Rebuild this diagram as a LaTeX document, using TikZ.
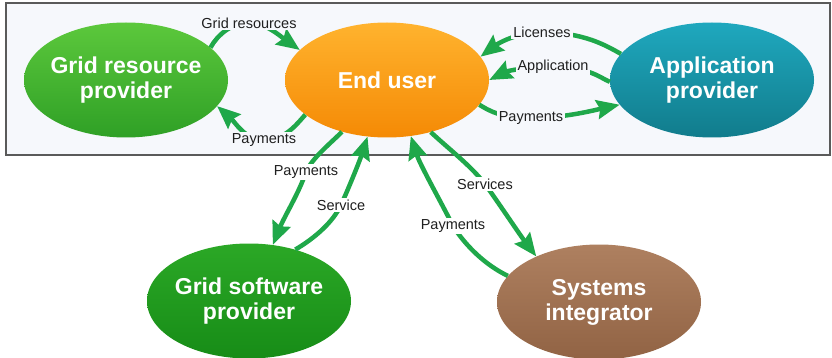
\documentclass[tikz,border=0pt]{standalone}
\usepackage{fontspec}
\setmainfont{Liberation Sans}
\usetikzlibrary{shapes.geometric,arrows.meta}
\definecolor{flowc}{HTML}{1FA84A}
\definecolor{boxbg}{HTML}{F6F8FC}
\definecolor{framec}{HTML}{5A5A5A}
\definecolor{grpT}{HTML}{5CC83C}\definecolor{grpM}{HTML}{3BB22E}\definecolor{grpB}{HTML}{2FA026}
\definecolor{euT}{HTML}{FFB32E}\definecolor{euM}{HTML}{FF9A12}\definecolor{euB}{HTML}{F58A05}
\definecolor{apT}{HTML}{1FA8BE}\definecolor{apM}{HTML}{178E9F}\definecolor{apB}{HTML}{117C8C}
\definecolor{gspT}{HTML}{2BA826}\definecolor{gspM}{HTML}{1E9A1E}\definecolor{gspB}{HTML}{178C17}
\definecolor{siT}{HTML}{AE8060}\definecolor{siM}{HTML}{A0714F}\definecolor{siB}{HTML}{916344}
\begin{document}
\begin{tikzpicture}[x=1pt,y=-1pt,
  party/.style={ellipse, inner sep=0pt, minimum width=204pt, minimum height=115pt},
  ptext/.style={text=white, font=\fontsize{23}{25}\selectfont\bfseries, align=center},
  flow/.style={draw=flowc, line width=4.5pt, -{Stealth[length=23pt,width=19pt,inset=3pt]}},
  lbl/.style={font=\fontsize{14.5}{16}\selectfont, text=black!88, inner sep=2pt, fill=boxbg},
  lblw/.style={lbl, fill=white}]
\useasboundingbox (0,0) rectangle (832,358);
\fill[white] (0,0) rectangle (832,358);
\draw[framec, line width=1.6pt, fill=boxbg] (6,3) rectangle (830,155);

\node[party, top color=grpT, middle color=grpM, bottom color=grpB,
  label={[ptext]center:Grid resource\\provider}] (grp) at (126,80) {};
\node[party, top color=euT, middle color=euM, bottom color=euB,
  label={[ptext]center:End user}] (eu) at (387,80) {};
\node[party, top color=apT, middle color=apM, bottom color=apB,
  label={[ptext]center:Application\\provider}] (ap) at (712,80) {};
\node[party, top color=gspT, middle color=gspM, bottom color=gspB,
  label={[ptext]center:Grid software\\provider}] (gsp) at (249,301) {};
\node[party, top color=siT, middle color=siM, bottom color=siB,
  label={[ptext]center:Systems\\integrator}] (si) at (599,302) {};

\coordinate (w1) at (249,23);
\coordinate (w2) at (264,140);
\coordinate (w3) at (542,32);
\coordinate (w4) at (553,67);
\coordinate (w5) at (531,118);
\coordinate (w6) at (306,172);
\coordinate (w7) at (341,205);
\coordinate (w8) at (453,226);
\coordinate (w9) at (485,184);

\draw[flow] (grp.21) .. controls (218,34) and (232,23) .. (w1) .. controls (266,23) and (280,36) .. (eu.161);
\draw[flow] (eu.203) .. controls (296,125) and (285,140) .. (w2) .. controls (245,140) and (235,122) .. (grp.344);
\draw[flow] (ap.164) .. controls (605,45) and (585,33) .. (w3) .. controls (520,32) and (500,42) .. (eu.14);
\draw[flow] (ap.181) .. controls (600,78) and (590,67) .. (w4) .. controls (520,67) and (505,72) .. (eu.0);
\draw[flow] (eu.345) .. controls (488,110) and (500,118) .. (w5) .. controls (565,118) and (595,110) .. (ap.195);
\draw[flow] (eu.229) .. controls (332,142) and (312,158) .. (w6) .. controls (298,195) and (285,215) .. (gsp.67);
\draw[flow] (gsp.48) .. controls (315,238) and (333,222) .. (w7) .. controls (350,185) and (360,160) .. (eu.251);
\draw[flow] (si.164) .. controls (485,265) and (465,245) .. (w8) .. controls (440,200) and (420,165) .. (eu.293);
\draw[flow] (eu.310) .. controls (450,150) and (470,165) .. (w9) .. controls (500,205) and (520,235) .. (si.144);

\node[lbl] (l1) at (w1) {Grid resources};
\node[lbl] (l2) at (w2) {Payments};
\node[lbl] (l3) at (w3) {Licenses};
\node[lbl] (l4) at (w4) {Application};
\node[lbl] (l5) at (w5) {Payments};
\node[lblw] (l6) at (w6) {Payments};
\node[lblw] (l7) at (w7) {Service};
\node[lblw] (l8) at (w8) {Payments};
\node[lblw] (l9) at (w9) {Services};
\end{tikzpicture}
\end{document}
